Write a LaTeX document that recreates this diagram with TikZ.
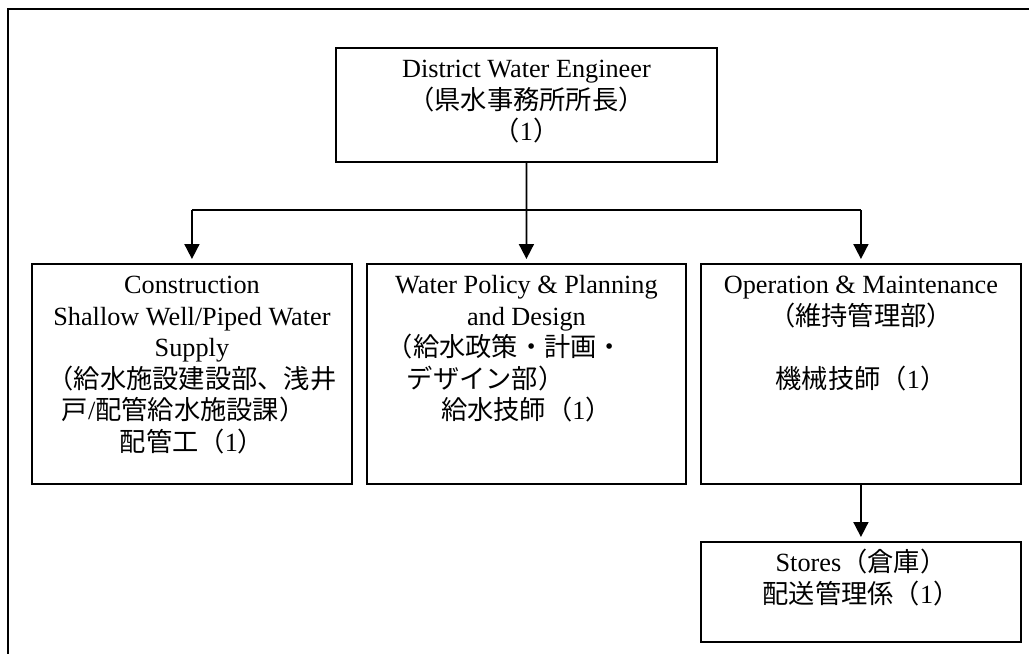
\documentclass[tikz,border=0pt]{standalone}
\usepackage{fontspec}
\setmainfont{Liberation Serif}
\newfontfamily\jpfont{Noto Sans CJK JP}
\usetikzlibrary{arrows.meta}
\newcommand\ja[1]{{\jpfont #1}}
\newcommand\orgtext[3]{\parbox[c][#2][t]{#1}{\centering\rule{0pt}{12pt}#3\par}}

\begin{document}
\begin{tikzpicture}[x=0.4pt,y=-0.4pt,
  unit/.style={draw,line width=0.75pt,inner sep=0pt,anchor=north west,
    font=\fontsize{10.5pt}{12.6pt}\selectfont},
  down/.style={line width=0.7pt,-{Triangle[width=6pt,length=6pt]},shorten >=1.6pt}]
\useasboundingbox (0,0) rectangle (1029,654);
\draw[line width=1pt] (1029,9) -- (8,9) -- (8,654);
\node[unit] (dwe) at (335,47) {\orgtext{152.4pt}{45.6pt}{District Water Engineer\\
  \ja{（県水事務所所長）}\\\ja{（}1\ja{）}}};
\node[unit] (cons) at (31,263) {\orgtext{128pt}{88pt}{Construction\\
  Shallow Well/Piped Water\\Supply\\\ja{（給水施設建設部、浅井}\\
  \makebox[\linewidth][l]{\hspace*{12pt}\ja{戸}/\ja{配管給水施設課）}}\\
  \ja{配管工（}1\ja{）}}};
\node[unit] (plan) at (366,263) {\orgtext{127.6pt}{88pt}{Water Policy \& Planning\\
  and Design\\\makebox[\linewidth][l]{\hspace*{8pt}\ja{（給水政策・計画・}}\\
  \makebox[\linewidth][l]{\hspace*{16pt}\ja{デザイン部）}}\\
  \ja{給水技師（}1\ja{）}}};
\node[unit] (om) at (700,263) {\orgtext{128pt}{88pt}{Operation \& Maintenance\\
  \ja{（維持管理部）}\\[12.6pt]\ja{機械技師（}1\ja{）}}};
\node[unit] (store) at (700,541) {\orgtext{128pt}{40pt}{Stores\ja{（倉庫）}\\
  \ja{配送管理係（}1\ja{）}}};
\coordinate (bar) at (525,210);
\draw[down] (dwe) -- (plan);
\draw[line width=0.7pt] (cons.north |- bar) -- (om.north |- bar);
\draw[down] (cons.north |- bar) -- (cons.north);
\draw[down] (om.north |- bar) -- (om.north);
\draw[down] (om) -- (store);
\end{tikzpicture}
\end{document}
